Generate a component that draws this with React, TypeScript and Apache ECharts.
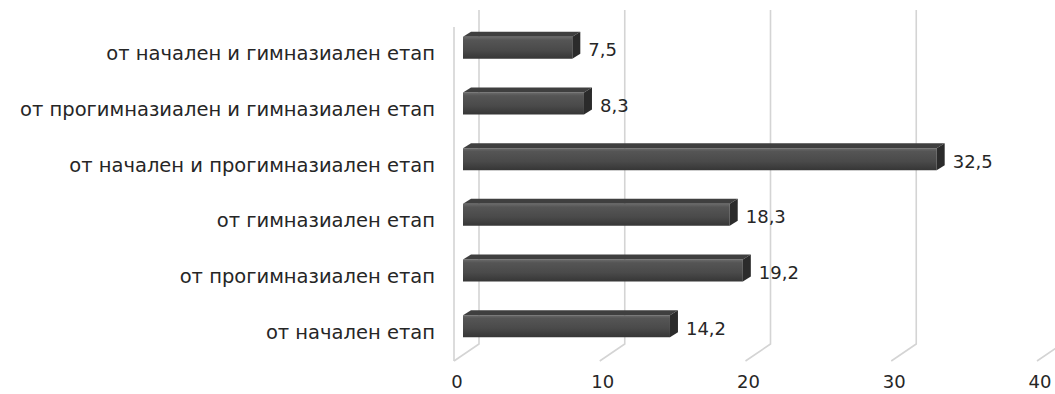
import React, { useEffect, useRef } from "react";
import * as echarts from "echarts";

// Categories listed bottom-to-top (category axis starts at the bottom)
const categories = [
  "от начален етап",
  "от прогимназиален етап",
  "от гимназиален етап",
  "от начален и прогимназиален етап",
  "от прогимназиален и гимназиален етап",
  "от начален и гимназиален етап",
];
const values = [14.2, 19.2, 18.3, 32.5, 8.3, 7.5];
const ticks = [0, 10, 20, 30, 40];

const FONT = "'DejaVu Sans', Verdana, sans-serif";
const TEXT = "#262626";

const fmt = (v: number) => v.toFixed(1).replace(".", ",");

// Bars sit a little above the centre of their category band
const BAR_LIFT = 6;
// Depth offsets of the pseudo-3D scene, relative to the bar plane
const BACK_DX = 16;
const BACK_DY = -10;
const FLOOR_DX = -25;
const FLOOR_DY = 17;

export default function App() {
  const ref = useRef<HTMLDivElement>(null);

  useEffect(() => {
    if (!ref.current) return;
    const chart = echarts.init(ref.current, undefined, { renderer: "svg" });

    const gridSeries = {
      type: "custom",
      z: 1,
      silent: true,
      data: ticks.map((t) => [t, 0]),
      renderItem: (params: any, api: any) => {
        const cs = params.coordSys;
        const [px] = api.coord([api.value(0), 0]);
        const bx = px + BACK_DX;
        const top = cs.y + BACK_DY - BAR_LIFT;
        const bot = cs.y + cs.height + BACK_DY - BAR_LIFT;
        const fx = bx + FLOOR_DX;
        const fy = bot + FLOOR_DY;
        const style = { stroke: "#d4d4d4", lineWidth: 1.6, fill: null };
        const children: any[] = [
          {
            type: "polyline",
            shape: { points: [[bx, top], [bx, bot], [fx, fy]] },
            style,
          },
        ];
        if (api.value(0) === 0) {
          // front edge of the side wall
          children.push({
            type: "line",
            shape: { x1: fx, y1: top + FLOOR_DY, x2: fx, y2: fy },
            style,
          });
        }
        return { type: "group", children };
      },
    };

    const barSeries = {
      type: "custom",
      z: 2,
      data: values.map((v, i) => [v, i]),
      renderItem: (_params: any, api: any) => {
        const v = api.value(0);
        const idx = api.value(1);
        const [x1, cyBand] = api.coord([v, idx]);
        const [x0] = api.coord([0, idx]);
        const cy = cyBand - BAR_LIFT;
        const h = 22;
        const dx = 8;
        const dy = 5;
        const yt = cy - h / 2;
        const yb = cy + h / 2;
        return {
          type: "group",
          children: [
            {
              type: "rect",
              shape: { x: x0, y: yt, width: x1 - x0, height: h },
              style: {
                fill: new echarts.graphic.LinearGradient(0, 0, 0, 1, [
                  { offset: 0, color: "#6a6a6a" },
                  { offset: 0.15, color: "#555555" },
                  { offset: 0.6, color: "#4a4a4a" },
                  { offset: 1, color: "#363636" },
                ]),
              },
            },
            {
              type: "polygon",
              shape: {
                points: [
                  [x0, yt],
                  [x1, yt],
                  [x1 + dx, yt - dy],
                  [x0 + dx, yt - dy],
                ],
              },
              style: { fill: "#3f3f3f" },
            },
            {
              type: "polygon",
              shape: {
                points: [
                  [x1, yt],
                  [x1 + dx, yt - dy],
                  [x1 + dx, yb - dy],
                  [x1, yb],
                ],
              },
              style: { fill: "#2b2b2b" },
            },
            {
              type: "text",
              x: x1 + dx + 8,
              y: cy + 2,
              style: {
                text: fmt(v),
                font: `18px ${FONT}`,
                fill: TEXT,
                verticalAlign: "middle",
                align: "left",
              },
            },
          ],
        };
      },
    };

    chart.setOption({
      animation: false,
      backgroundColor: "#ffffff",
      grid: { left: 463, right: 9, top: 20 + BAR_LIFT, bottom: 40 - BAR_LIFT },
      xAxis: {
        type: "value",
        min: 0,
        max: 40,
        interval: 10,
        axisLine: { show: false },
        axisTick: { show: false },
        splitLine: { show: false },
        axisLabel: {
          margin: 12,
          fontSize: 18,
          fontFamily: FONT,
          color: TEXT,
          padding: [0, 12, 0, 0],
        },
      },
      yAxis: {
        type: "category",
        data: categories,
        axisLine: { show: false },
        axisTick: { show: false },
        splitLine: { show: false },
        axisLabel: {
          margin: 28,
          fontSize: 19.5,
          fontFamily: FONT,
          color: TEXT,
        },
      },
      series: [gridSeries, barSeries],
    });

    return () => chart.dispose();
  }, []);

  return (
    <div
      ref={ref}
      style={{ position: "absolute", left: 0, top: 0, width: 1055, height: 394 }}
    />
  );
}
